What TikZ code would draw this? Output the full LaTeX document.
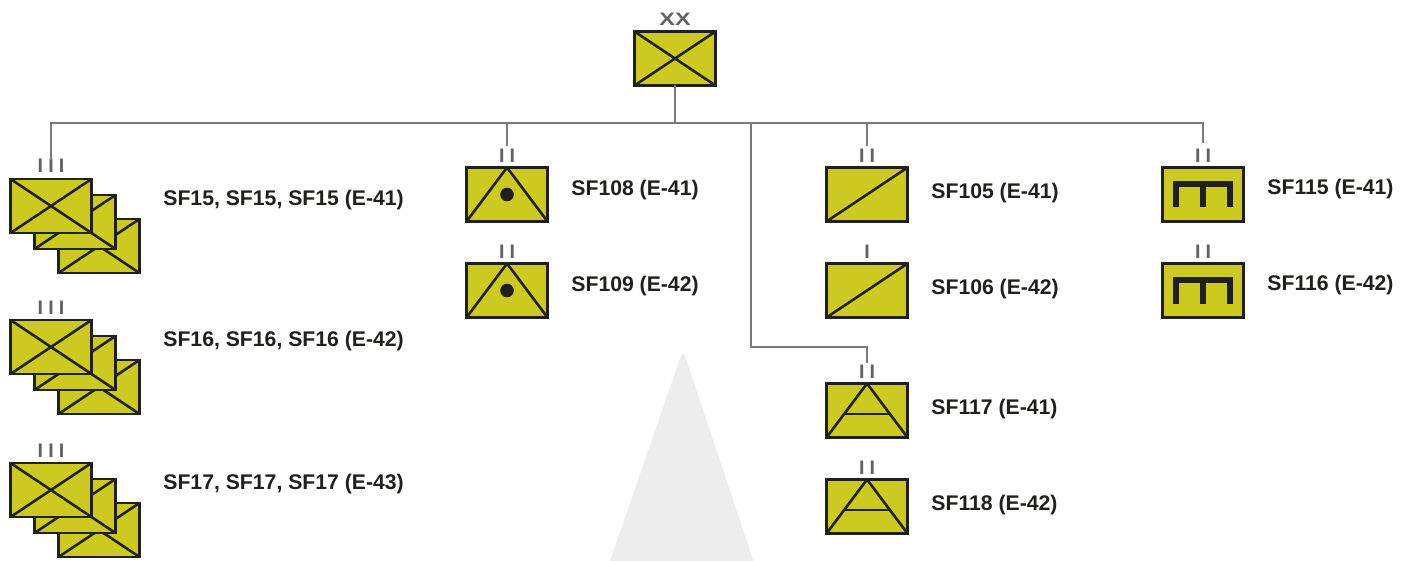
\documentclass[tikz,border=0pt]{standalone}
\usepackage{fontspec}
\usepackage{graphicx}
\setmainfont{Liberation Sans}
\newfontfamily\echfont[LetterSpace=26]{Liberation Sans}
\usetikzlibrary{positioning}

\definecolor{unityellow}{RGB}{204,201,32}
\definecolor{symink}{RGB}{32,32,28}

\tikzset{
  unitbox/.style={draw=symink, fill=unityellow, line width=1.2pt, minimum width=40.5pt,
    minimum height=27pt, inner sep=0pt, outer sep=0pt},
  symline/.style={draw=symink, line width=1.3pt},
  crossbox/.style={unitbox, path picture={
    \draw[symline] (path picture bounding box.north west) -- (path picture bounding box.south east)
      (path picture bounding box.south west) -- (path picture bounding box.north east);}},
  slashbox/.style={unitbox, path picture={
    \draw[symline] (path picture bounding box.south west) -- (path picture bounding box.north east);}},
  dotbox/.style={unitbox, path picture={
    \draw[symline] (path picture bounding box.south west) -- (path picture bounding box.north)
      -- (path picture bounding box.south east);
    \fill[symink] (path picture bounding box.center) circle (3.4pt);}},
  barbox/.style={unitbox, path picture={
    \draw[symline] (path picture bounding box.south west) -- (path picture bounding box.north)
      -- (path picture bounding box.south east);
    \draw[symline, line width=0.9pt, shift={(path picture bounding box.center)}] (-23,3.5) -- (23,3.5);}},
  combbox/.style={unitbox, path picture={
    \draw[draw=symink, line width=2.8pt, shift={(path picture bounding box.center)}]
      (-27,13) -- (-27,-10.5) -- (27,-10.5) -- (27,13) (0,-10.5) -- (0,13);}},
  echmark/.style={inner sep=0pt, outer sep=0pt, text=black!62, font=\echfont\bfseries\fontsize{9.8}{10}\selectfont},
  divmark/.style={inner sep=0pt, outer sep=0pt, text=black!62, font=\bfseries\fontsize{9}{10}\selectfont},
  sflabel/.style={anchor=west, inner sep=0pt, text=symink, font=\bfseries\fontsize{10.6}{12}\selectfont},
  conn/.style={draw=black!52, line width=0.65pt}
}

\begin{document}
\begin{tikzpicture}[x=0.5pt, y=-0.5pt]
  \useasboundingbox (0,0) rectangle (1412,561);

  % Grey shape behind the chart
  \fill[black!7, rounded corners=3pt] (596.5,600) -- (683,350) -- (766.5,600) -- cycle;

  % Division
  \node[crossbox] (top) at (675,58.5) {};
  \node[divmark, above=3pt of top] (mtop) {\scalebox{1.3}[1]{XX}};

  % Stacks of three
  \foreach \nm/\yy/\lab in {a/206/{SF15, SF15, SF15 (E-41)}, b/347/{SF16, SF16, SF16 (E-42)}, c/490/{SF17, SF17, SF17 (E-43)}}{
    \node[crossbox] (\nm3) at (99,\yy+40) {};
    \node[crossbox] (\nm2) at (75,\yy+16) {};
    \node[crossbox] (\nm1) at (51,\yy) {};
    \node[echmark, above=3pt of \nm1] (m\nm) {III};
    \node[sflabel] (l\nm) at (163,\yy-6) {\lab};
  }

  % Second column
  \node[dotbox] (b108) at (507,194.5) {};
  \node[dotbox] (b109) at (507,290.5) {};
  \node[echmark, above=2.5pt of b108] (m108) {II};
  \node[echmark, above=2.5pt of b109] (m109) {II};
  \node[sflabel] (l108) at (571,190) {SF108 (E-41)};
  \node[sflabel] (l109) at (571,286) {SF109 (E-42)};

  % Third column
  \node[slashbox] (b105) at (867,194.5) {};
  \node[slashbox] (b106) at (867,290.5) {};
  \node[echmark, above=2.5pt of b105] (m105) {II};
  \node[echmark, above=2.5pt of b106] (m106) {I};
  \node[sflabel] (l105) at (931,193) {SF105 (E-41)};
  \node[sflabel] (l106) at (931,289) {SF106 (E-42)};

  \node[barbox] (b117) at (867,410.5) {};
  \node[barbox] (b118) at (867,506.5) {};
  \node[echmark, above=2.5pt of b117] (m117) {II};
  \node[echmark, above=2.5pt of b118] (m118) {II};
  \node[sflabel] (l117) at (931,409) {SF117 (E-41)};
  \node[sflabel] (l118) at (931,505) {SF118 (E-42)};

  % Fourth column
  \node[combbox] (b115) at (1203,194.5) {};
  \node[combbox] (b116) at (1203,290.5) {};
  \node[echmark, above=2.5pt of b115] (m115) {II};
  \node[echmark, above=2.5pt of b116] (m116) {II};
  \node[sflabel] (l115) at (1267,189) {SF115 (E-41)};
  \node[sflabel] (l116) at (1267,285) {SF116 (E-42)};

  % Connectors
  \coordinate (bus) at (675,123);
  \coordinate (drop) at (751,123);
  \coordinate (bend) at (751,347);
  \draw[conn] (top.south) -- (bus);
  \draw[conn] (ma.north) |- (bus) -| ([yshift=3pt]m115.north);
  \draw[conn] (bus) -| ([yshift=1.5pt]m108.north);
  \draw[conn] (bus) -| ([yshift=1.5pt]m105.north);
  \draw[conn] (drop) -- (bend) -| ([yshift=1pt]m117.north);
\end{tikzpicture}
\end{document}
